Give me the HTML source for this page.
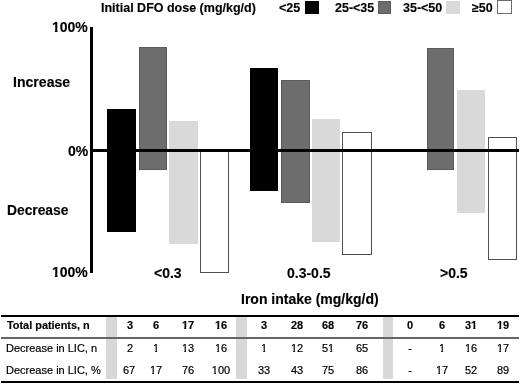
<!DOCTYPE html>
<html><head><meta charset="utf-8">
<style>
html,body{margin:0;padding:0;background:#fff;}
body{width:520px;height:384px;position:relative;overflow:hidden;font-family:"Liberation Sans",sans-serif;color:#000;}
.t{position:absolute;white-space:nowrap;line-height:1;will-change:transform;}
.b{font-weight:bold;-webkit-text-stroke:0.15px #000;}
.rg{-webkit-text-stroke:0.2px #000;}
.r{position:absolute;}
.k{background:#000;}
.d{background:#6d6d6d;border:1px solid #5c5c5c;box-sizing:border-box;}
.l{background:#d9d9d9;}
.w{background:#fff;border:1px solid #505050;box-sizing:border-box;}
.o{display:inline-block;clip-path:polygon(0 0,100% 0,100% 0.64em,0.395em 0.64em,0.395em 100%,0.21em 100%,0.21em 0.64em,0 0.64em);}
.rg .o{clip-path:polygon(0 0,100% 0,100% 0.64em,0.38em 0.64em,0.38em 100%,0.21em 100%,0.21em 0.64em,0 0.64em);}
.num{position:absolute;will-change:transform;width:40px;text-align:center;font-size:11px;line-height:1;}
</style></head><body>
<!-- legend -->
<div class="t b" style="left:101px;top:2px;font-size:12.5px;">Initial DFO dose (mg/kg/d)</div>
<div class="t b" style="left:278.7px;top:2px;font-size:12.5px;">&lt;25</div>
<div class="r k" style="left:305px;top:1px;width:14px;height:13px;"></div>
<div class="t b" style="left:335px;top:2px;font-size:12.5px;">25-&lt;35</div>
<div class="r d" style="left:378px;top:1px;width:13px;height:13px;"></div>
<div class="t b" style="left:403.4px;top:2px;font-size:12.5px;">35-&lt;50</div>
<div class="r l" style="left:446px;top:1px;width:14px;height:13px;"></div>
<div class="t b" style="left:471.5px;top:2px;font-size:12.5px;">&ge;50</div>
<div class="r w" style="left:497px;top:0px;width:15px;height:14px;border-color:#6a6a6a;"></div>

<!-- y labels -->
<div class="t b" style="left:52.3px;top:20.3px;font-size:14px;"><span class="o">1</span>00%</div>
<div class="t b" style="left:13.0px;top:75.2px;font-size:14.1px;">Increase</div>
<div class="t b" style="left:68.2px;top:144px;font-size:14px;">0%</div>
<div class="t b" style="left:6.8px;top:204.1px;font-size:13.8px;">Decrease</div>
<div class="t b" style="left:52.3px;top:265.2px;font-size:14px;"><span class="o">1</span>00%</div>

<!-- bars group 1 -->
<div class="r k" style="left:107px;top:109px;width:29px;height:123px;"></div>
<div class="r d" style="left:139px;top:47px;width:28px;height:123px;"></div>
<div class="r l" style="left:169px;top:121px;width:29px;height:123px;"></div>
<div class="r w" style="left:200px;top:150px;width:29px;height:123px;"></div>
<!-- group 2 -->
<div class="r k" style="left:250px;top:68px;width:28px;height:123px;"></div>
<div class="r d" style="left:281px;top:80px;width:29px;height:123px;"></div>
<div class="r l" style="left:312px;top:119px;width:28px;height:123px;"></div>
<div class="r w" style="left:342px;top:132px;width:30px;height:123px;"></div>
<!-- group 3 -->
<div class="r d" style="left:427px;top:48px;width:27px;height:122px;"></div>
<div class="r l" style="left:457px;top:90px;width:28px;height:123px;"></div>
<div class="r w" style="left:488px;top:137px;width:29px;height:123px;"></div>

<!-- axes -->
<div class="r k" style="left:90px;top:27px;width:3px;height:246px;"></div>
<div class="r k" style="left:90px;top:149px;width:429px;height:3px;"></div>

<!-- x labels -->
<div class="t b" style="left:154.2px;top:265.6px;font-size:14px;">&lt;0.3</div>
<div class="t b" style="left:286.7px;top:265.6px;font-size:14px;">0.3-0.5</div>
<div class="t b" style="left:440.2px;top:265.6px;font-size:14px;">&gt;0.5</div>
<div class="t b" style="left:240.9px;top:291.5px;font-size:14px;">Iron intake (mg/kg/d)</div>

<!-- table -->
<div class="r k" style="left:1px;top:315px;width:518px;height:2px;"></div>

<div class="r k" style="left:1px;top:381px;width:518px;height:2px;"></div>
<div class="r" style="left:106px;top:317px;width:11px;height:62px;background:#d8d8d8;"></div>
<div class="r" style="left:236px;top:317px;width:11px;height:62px;background:#d8d8d8;"></div>
<div class="r" style="left:383px;top:317px;width:10px;height:62px;background:#d8d8d8;"></div>
<div class="r" style="left:1px;top:337px;width:518px;height:2px;background:#666;"></div>

<div class="t b" style="left:6.9px;top:320px;font-size:10.9px;">Total patients, n</div>
<div class="t rg" style="left:6px;top:343px;font-size:11px;">Decrease in LIC, n</div>
<div class="t rg" style="left:6px;top:365px;font-size:11px;">Decrease in LIC, %</div>

<div class="num b" style="left:110px;top:320px;">3</div>
<div class="num b" style="left:136px;top:320px;">6</div>
<div class="num b" style="left:168px;top:320px;"><span class="o">1</span>7</div>
<div class="num b" style="left:200.5px;top:320px;"><span class="o">1</span>6</div>
<div class="num b" style="left:244px;top:320px;">3</div>
<div class="num b" style="left:277px;top:320px;">28</div>
<div class="num b" style="left:308px;top:320px;">68</div>
<div class="num b" style="left:342px;top:320px;">76</div>
<div class="num b" style="left:390px;top:320px;">0</div>
<div class="num b" style="left:422.2px;top:320px;">6</div>
<div class="num b" style="left:451px;top:320px;">3<span class="o">1</span></div>
<div class="num b" style="left:483px;top:320px;"><span class="o">1</span>9</div>

<div class="num rg" style="left:110px;top:343px;">2</div>
<div class="num rg" style="left:136px;top:343px;"><span class="o">1</span></div>
<div class="num rg" style="left:168px;top:343px;"><span class="o">1</span>3</div>
<div class="num rg" style="left:200.5px;top:343px;"><span class="o">1</span>6</div>
<div class="num rg" style="left:244px;top:343px;"><span class="o">1</span></div>
<div class="num rg" style="left:277px;top:343px;"><span class="o">1</span>2</div>
<div class="num rg" style="left:308px;top:343px;">5<span class="o">1</span></div>
<div class="num rg" style="left:342px;top:343px;">65</div>
<div class="num rg" style="left:390px;top:343px;">-</div>
<div class="num rg" style="left:422.2px;top:343px;"><span class="o">1</span></div>
<div class="num rg" style="left:451px;top:343px;"><span class="o">1</span>6</div>
<div class="num rg" style="left:483px;top:343px;"><span class="o">1</span>7</div>

<div class="num rg" style="left:109px;top:365px;">67</div>
<div class="num rg" style="left:136px;top:365px;"><span class="o">1</span>7</div>
<div class="num rg" style="left:168px;top:365px;">76</div>
<div class="num rg" style="left:200.5px;top:365px;"><span class="o">1</span>00</div>
<div class="num rg" style="left:244px;top:365px;">33</div>
<div class="num rg" style="left:277px;top:365px;">43</div>
<div class="num rg" style="left:308px;top:365px;">75</div>
<div class="num rg" style="left:342px;top:365px;">86</div>
<div class="num rg" style="left:390px;top:365px;">-</div>
<div class="num rg" style="left:422.2px;top:365px;"><span class="o">1</span>7</div>
<div class="num rg" style="left:451px;top:365px;">52</div>
<div class="num rg" style="left:483px;top:365px;">89</div>
</body></html>
